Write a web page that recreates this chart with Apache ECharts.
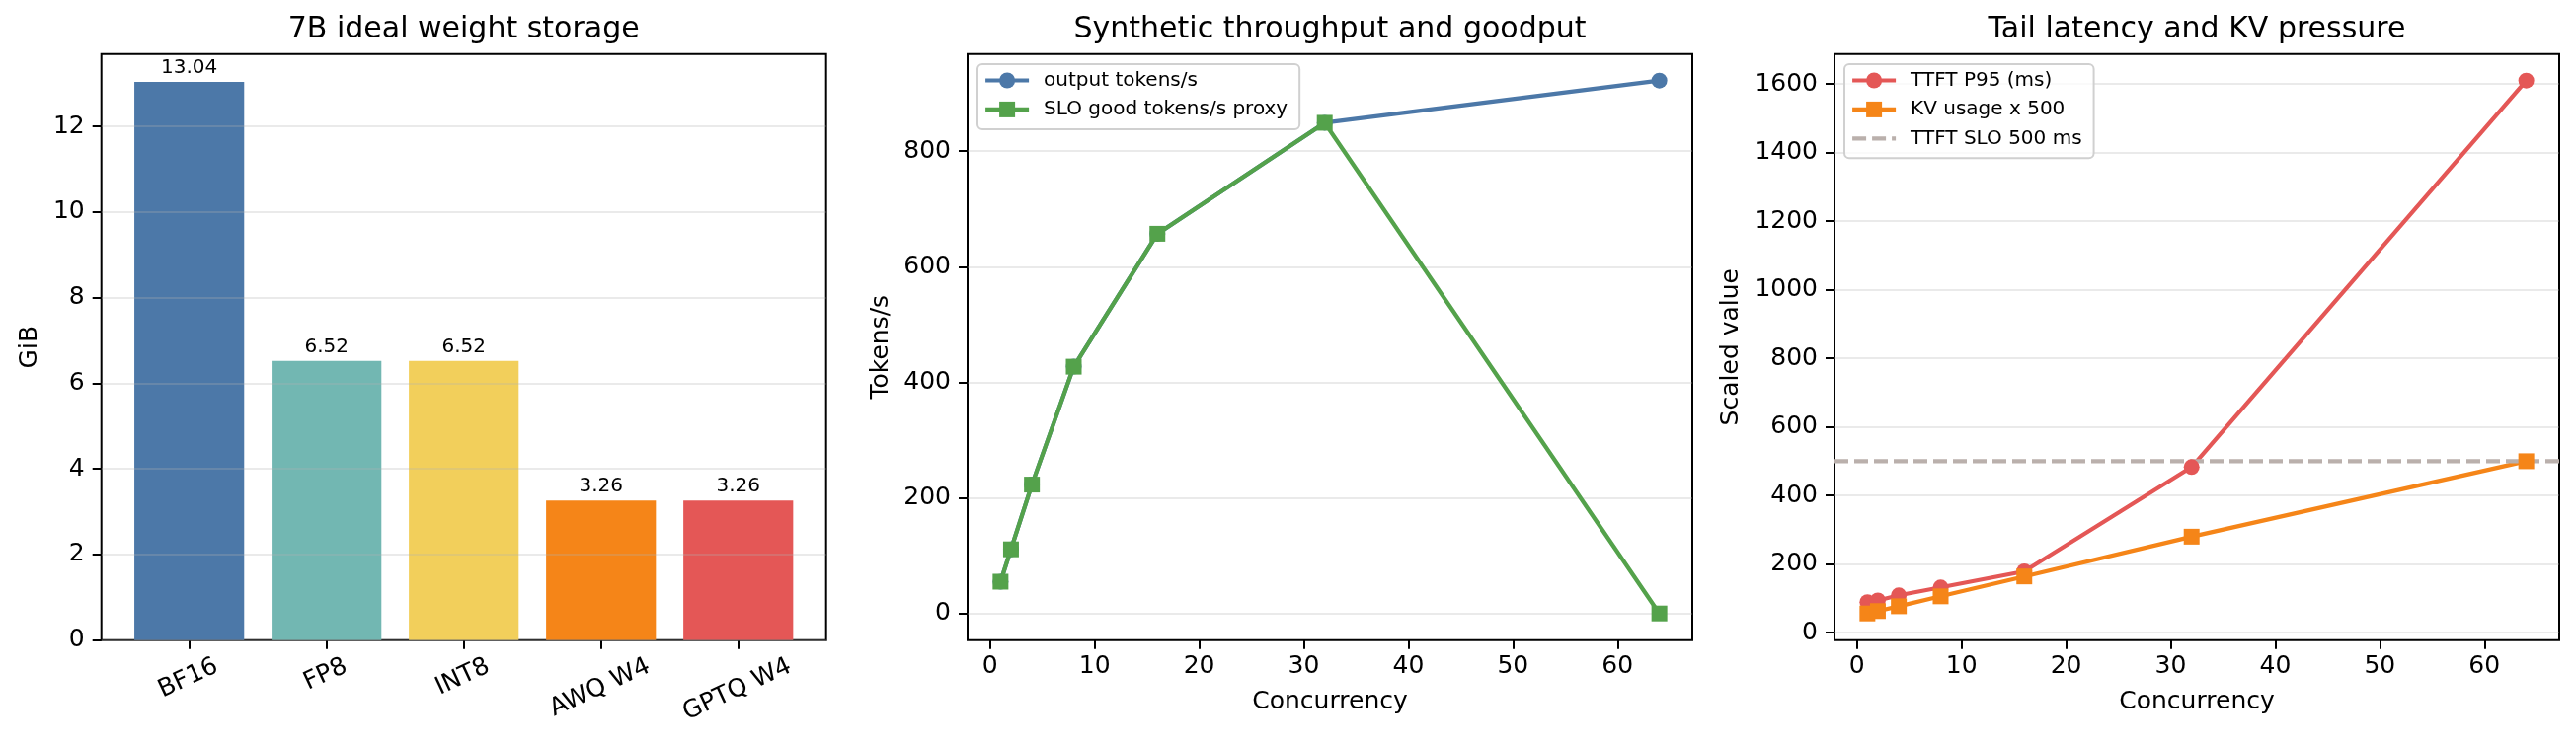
<!DOCTYPE html>
<html><head><meta charset="utf-8">
<script src="https://cdn.jsdelivr.net/npm/echarts@6/dist/echarts.min.js"></script>
<style>html,body{margin:0;padding:0;background:#fff}#c{width:2609px;height:755px}</style>
</head><body><div id="c"></div>
<script>
// ---- data ----
const formats = ['BF16', 'FP8', 'INT8', 'AWQ W4', 'GPTQ W4'];
const storageGiB = [13.04, 6.52, 6.52, 3.26, 3.26];
const concurrency = [1, 2, 4, 8, 16, 32, 64];
const outputTokens = [55, 111, 223, 427, 657, 849, 922];
const goodTokens = [55, 111, 223, 427, 657, 849, 0];
const ttftP95 = [89, 94, 109, 132, 179, 483, 1610];
const kvUsageScaled = [56, 63, 77, 106, 164, 280, 500];
const sloTtft = 500;
const storageTicks = [0, 2, 4, 6, 8, 10, 12];
const tokenTicks = [0, 200, 400, 600, 800];
const scaledTicks = [0, 200, 400, 600, 800, 1000, 1200, 1400, 1600];
const concurrencyTicks = [0, 10, 20, 30, 40, 50, 60];
const titles = ['7B ideal weight storage', 'Synthetic throughput and goodput', 'Tail latency and KV pressure'];

// ---- style ----
const FONT = 'DejaVu Sans';
const barColors = ['#4c78a8', '#72b7b2', '#f2cf5b', '#f58518', '#e45756'];
const C = { blue: '#4c78a8', green: '#54a24b', red: '#e45756', orange: '#f58518', gray: '#bab0ac' };
const grids = [
  { left: 102.7, top: 54.7, width: 734, height: 594 },
  { left: 980, top: 54.7, width: 734, height: 594 },
  { left: 1858, top: 54.7, width: 734, height: 594 }
];

function pad(lo, hi) { const r = hi - lo; return [lo - 0.05 * r, hi + 0.05 * r]; }
const n = formats.length, bw = 0.8;
const x1 = [-bw / 2 - 0.05 * (n - 1 + bw), n - 1 + bw / 2 + 0.05 * (n - 1 + bw)];
const y1 = [0, Math.max(...storageGiB) * 1.05];
const xc = pad(Math.min(...concurrency), Math.max(...concurrency));
const y2 = pad(Math.min(...outputTokens, ...goodTokens), Math.max(...outputTokens, ...goodTokens));
const y3 = pad(Math.min(...ttftP95, ...kvUsageScaled), Math.max(...ttftP95, ...kvUsageScaled));

// rotated label anchor shift (matplotlib centers the rotated bbox)
const ctx = document.createElement('canvas').getContext('2d');
ctx.font = '25px "' + FONT + '"';
const th = 25 * Math.PI / 180;
const pxu = grids[0].width / (x1[1] - x1[0]);
const lh = 25 * 1.17;
const labelPos = formats.map((f, i) => i + (ctx.measureText(f).width * Math.cos(th) - lh * Math.sin(th)) / 2 / pxu);

const gridStyle = { show: true, lineStyle: { color: 'rgba(176,176,176,0.27)', width: 2 } };
const tickStyle = { show: true, length: 9, inside: false, lineStyle: { color: '#000', width: 2 } };
const lab = { fontSize: 25, color: '#000', fontFamily: FONT };
const noLine = { show: false, onZero: false };

function yAx(gi, rng, ticks, name, gap, z) {
  return {
    type: 'value', gridIndex: gi, min: rng[0], max: rng[1], z: z || 0,
    axisLine: noLine, axisTick: Object.assign({ customValues: ticks }, tickStyle),
    axisLabel: Object.assign({ customValues: ticks, margin: 17, formatter: v => String(v) }, lab),
    splitLine: gridStyle,
    name: name, nameLocation: 'middle', nameGap: gap, nameTextStyle: lab
  };
}
function xAx(gi, rng, ticks, name) {
  return {
    type: 'value', gridIndex: gi, min: rng[0], max: rng[1],
    axisLine: noLine, axisTick: Object.assign({ customValues: ticks }, tickStyle),
    axisLabel: Object.assign({ customValues: ticks, margin: 14, formatter: v => String(v) }, lab),
    splitLine: { show: false },
    name: name, nameLocation: 'middle', nameGap: 50, nameTextStyle: lab
  };
}
function titleAx(gi, text) {
  return {
    type: 'value', gridIndex: gi, position: 'top', min: 0, max: 1,
    axisLine: noLine, axisTick: { show: false }, axisLabel: { show: false }, splitLine: { show: false },
    name: text, nameLocation: 'middle', nameGap: 9,
    nameTextStyle: { fontSize: 30, color: '#000', fontFamily: FONT }
  };
}
function pts(xs, ys) { return xs.map((x, i) => [x, ys[i]]); }
function lineSeries(name, xi, yi, data, color, symbol) {
  return {
    type: 'line', name: name, xAxisIndex: xi, yAxisIndex: yi, data: data,
    symbol: symbol, symbolSize: 16, color: color,
    lineStyle: { width: 4.2, color: color }, itemStyle: { color: color }
  };
}
const legendBase = {
  orient: 'vertical', itemWidth: 44, itemHeight: 20, itemGap: 9.4,
  padding: [6.5, 12, 10, 6], borderColor: '#d0d0d0', borderWidth: 2, borderRadius: 5,
  backgroundColor: 'rgba(255,255,255,0.8)',
  lineStyle: { width: 4.2 },
  textStyle: { fontSize: 20, color: '#000', fontFamily: FONT, lineHeight: 20, padding: [0, 0, 0, 10] }
};

const option = {
  animation: false,
  textStyle: { fontFamily: FONT },
  grid: grids.map(g => Object.assign({ show: true, borderColor: '#000', borderWidth: 2, backgroundColor: 'transparent' }, g)),
  legend: [
    Object.assign({ left: 990, top: 65, data: ['output tokens/s', 'SLO good tokens/s proxy'] }, legendBase),
    Object.assign({ left: 1868, top: 65, data: ['TTFT P95 (ms)', 'KV usage x 500', 'TTFT SLO 500 ms'] }, legendBase)
  ],
  xAxis: [
    {
      type: 'value', gridIndex: 0, min: x1[0], max: x1[1],
      axisLine: noLine, axisTick: Object.assign({ customValues: formats.map((f, i) => i) }, tickStyle),
      axisLabel: Object.assign({
        customValues: labelPos, rotate: 25, align: 'right', verticalAlign: 'top', margin: 14,
        formatter: v => formats[Math.round(v)]
      }, lab),
      splitLine: { show: false }
    },
    xAx(1, xc, concurrencyTicks, 'Concurrency'),
    xAx(2, xc, concurrencyTicks, 'Concurrency'),
    titleAx(0, titles[0]), titleAx(1, titles[1]), titleAx(2, titles[2])
  ],
  yAxis: [
    yAx(0, y1, storageTicks, 'GiB', 60, 3),
    yAx(1, y2, tokenTicks, 'Tokens/s', 75),
    yAx(2, y3, scaledTicks, 'Scaled value', 92)
  ],
  series: [
    {
      type: 'bar', xAxisIndex: 0, yAxisIndex: 0, barWidth: bw * pxu,
      data: storageGiB.map((v, i) => ({ value: [i, v], itemStyle: { color: barColors[i] } })),
      label: { show: true, position: 'top', distance: 4, fontSize: 20, color: '#000', fontFamily: FONT,
        formatter: p => p.value[1].toFixed(2) }
    },
    lineSeries('output tokens/s', 1, 1, pts(concurrency, outputTokens), C.blue, 'circle'),
    lineSeries('SLO good tokens/s proxy', 1, 1, pts(concurrency, goodTokens), C.green, 'rect'),
    lineSeries('TTFT P95 (ms)', 2, 2, pts(concurrency, ttftP95), C.red, 'circle'),
    lineSeries('KV usage x 500', 2, 2, pts(concurrency, kvUsageScaled), C.orange, 'rect'),
    {
      type: 'line', name: 'TTFT SLO 500 ms', xAxisIndex: 2, yAxisIndex: 2,
      data: [[xc[0], sloTtft], [xc[1], sloTtft]], symbol: 'circle', showSymbol: false,
      color: C.gray, itemStyle: { color: C.gray, opacity: 0 },
      lineStyle: { width: 4.2, color: C.gray, type: [14, 6] }
    }
  ]
};
echarts.init(document.getElementById('c')).setOption(option);
</script></body></html>
